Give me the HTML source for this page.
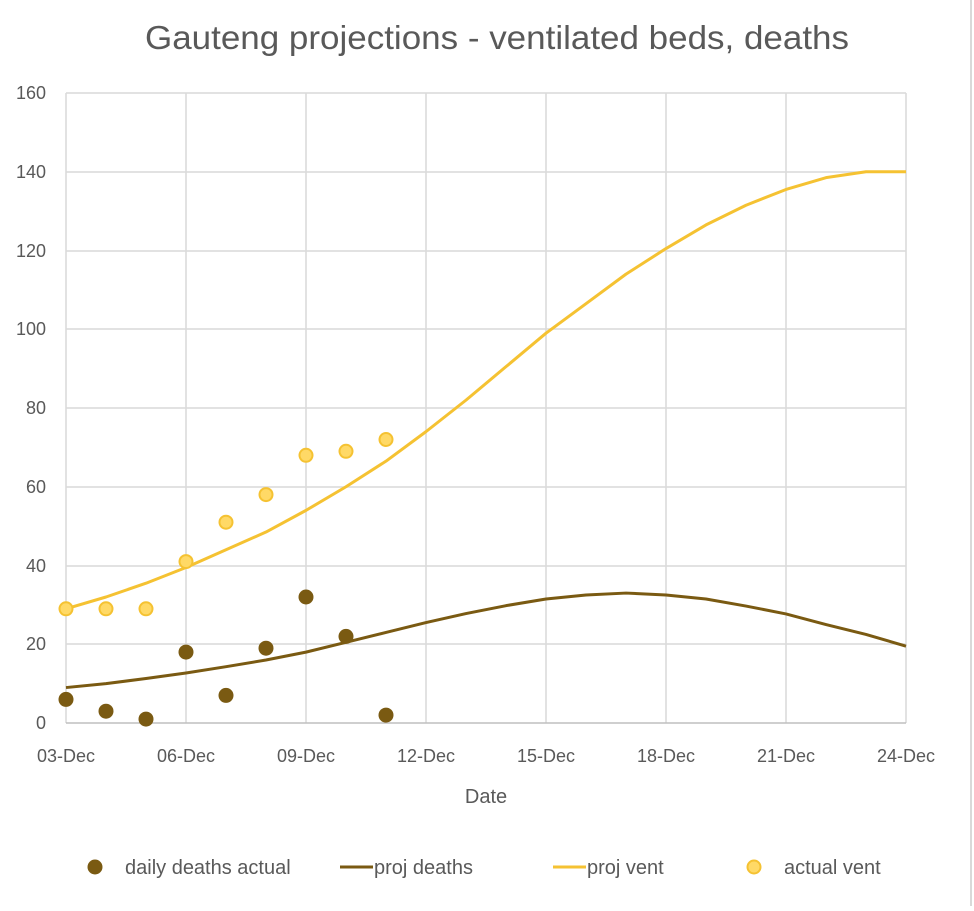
<!DOCTYPE html>
<html><head><meta charset="utf-8"><style>
html,body{margin:0;padding:0;background:#fff;}
svg text{font-family:"Liberation Sans",sans-serif;fill:#595959;}
</style></head><body>
<svg width="974" height="906" viewBox="0 0 974 906" xmlns="http://www.w3.org/2000/svg">
<rect x="0" y="0" width="974" height="906" fill="#fff"/>
<line x1="971" y1="0" x2="971" y2="906" stroke="#d9d9d9" stroke-width="2"/>
<text x="497" y="49" font-size="33" text-anchor="middle" textLength="704" lengthAdjust="spacingAndGlyphs">Gauteng projections - ventilated beds, deaths</text>
<g stroke="#d9d9d9" stroke-width="1.5">
<line x1="66" y1="644" x2="906" y2="644"/><line x1="66" y1="566" x2="906" y2="566"/>
<line x1="66" y1="487" x2="906" y2="487"/><line x1="66" y1="408" x2="906" y2="408"/>
<line x1="66" y1="329" x2="906" y2="329"/><line x1="66" y1="251" x2="906" y2="251"/>
<line x1="66" y1="172" x2="906" y2="172"/><line x1="66" y1="93" x2="906" y2="93"/>
<line x1="66" y1="93" x2="66" y2="723"/><line x1="186" y1="93" x2="186" y2="723"/>
<line x1="306" y1="93" x2="306" y2="723"/><line x1="426" y1="93" x2="426" y2="723"/>
<line x1="546" y1="93" x2="546" y2="723"/><line x1="666" y1="93" x2="666" y2="723"/>
<line x1="786" y1="93" x2="786" y2="723"/><line x1="906" y1="93" x2="906" y2="723"/>
</g>
<line x1="66" y1="723" x2="906" y2="723" stroke="#bfbfbf" stroke-width="1.5"/>
<g font-size="18" text-anchor="end">
<text x="46" y="729">0</text><text x="46" y="650">20</text><text x="46" y="572">40</text>
<text x="46" y="493">60</text><text x="46" y="414">80</text><text x="46" y="335">100</text>
<text x="46" y="257">120</text><text x="46" y="178">140</text><text x="46" y="99">160</text>
</g>
<g font-size="18" text-anchor="middle">
<text x="66" y="762">03-Dec</text><text x="186" y="762">06-Dec</text><text x="306" y="762">09-Dec</text>
<text x="426" y="762">12-Dec</text><text x="546" y="762">15-Dec</text><text x="666" y="762">18-Dec</text>
<text x="786" y="762">21-Dec</text><text x="906" y="762">24-Dec</text>
</g>
<text x="486" y="803" font-size="20" text-anchor="middle">Date</text>
<g transform="translate(66,723) scale(40,-3.9375)" fill="none">
<polyline vector-effect="non-scaling-stroke" stroke="#f5c232" stroke-width="3" stroke-linejoin="round"
points="0,29 1,32 2,35.5 3,39.5 4,44 5,48.5 6,54 7,60 8,66.5 9,74 10,82 11,90.5 12,99 13,106.5 14,114 15,120.5 16,126.5 17,131.5 18,135.5 19,138.5 20,140 21,140"/>
<polyline vector-effect="non-scaling-stroke" stroke="#7a5a12" stroke-width="3" stroke-linejoin="round"
points="0,9 1,10 2,11.3 3,12.7 4,14.3 5,16 6,18 7,20.5 8,23 9,25.5 10,27.8 11,29.8 12,31.5 13,32.5 14,33 15,32.5 16,31.5 17,29.7 18,27.7 19,25 20,22.5 21,19.5"/>
</g>
<g fill="#ffd966" stroke="#f5c232" stroke-width="2">
<circle cx="66" cy="608.8" r="6.5"/><circle cx="106" cy="608.8" r="6.5"/><circle cx="146" cy="608.8" r="6.5"/>
<circle cx="186" cy="561.6" r="6.5"/><circle cx="226" cy="522.2" r="6.5"/><circle cx="266" cy="494.6" r="6.5"/>
<circle cx="306" cy="455.3" r="6.5"/><circle cx="346" cy="451.3" r="6.5"/><circle cx="386" cy="439.5" r="6.5"/>
</g>
<g fill="#7a5a12">
<circle cx="66" cy="699.4" r="7.5"/><circle cx="106" cy="711.2" r="7.5"/><circle cx="146" cy="719.1" r="7.5"/>
<circle cx="186" cy="652.1" r="7.5"/><circle cx="226" cy="695.4" r="7.5"/><circle cx="266" cy="648.2" r="7.5"/>
<circle cx="306" cy="597" r="7.5"/><circle cx="346" cy="636.4" r="7.5"/><circle cx="386" cy="715.1" r="7.5"/>
</g>
<g font-size="20">
<circle cx="95" cy="867" r="7.5" fill="#7a5a12"/>
<text x="125" y="874">daily deaths actual</text>
<line x1="340" y1="867" x2="373" y2="867" stroke="#7a5a12" stroke-width="3"/>
<text x="374" y="874">proj deaths</text>
<line x1="553" y1="867" x2="586" y2="867" stroke="#f5c232" stroke-width="3"/>
<text x="587" y="874">proj vent</text>
<circle cx="754" cy="867" r="6.5" fill="#ffd966" stroke="#f5c232" stroke-width="2"/>
<text x="784" y="874">actual vent</text>
</g>
</svg>
</body></html>
